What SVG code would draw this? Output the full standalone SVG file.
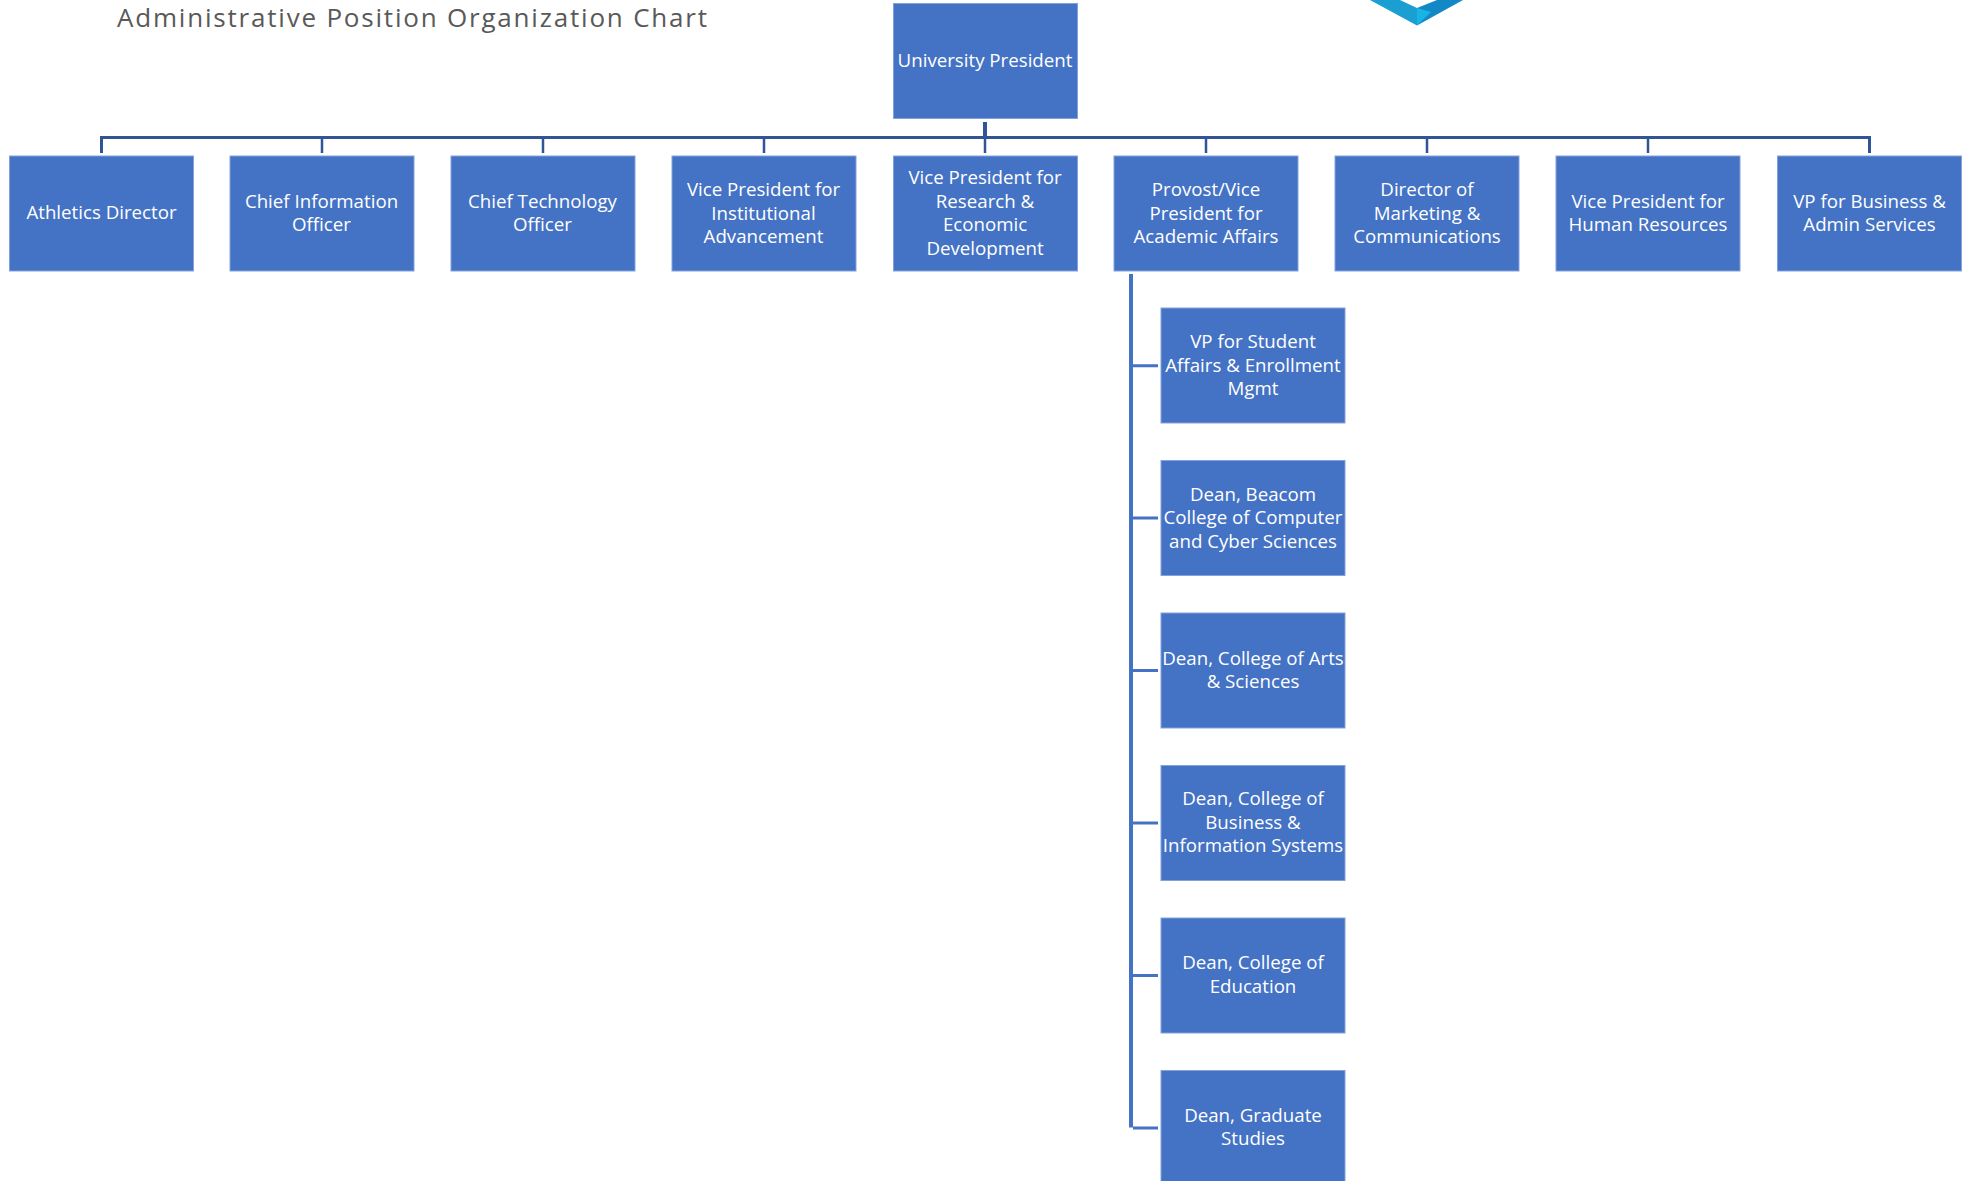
<svg xmlns="http://www.w3.org/2000/svg" width="1971" height="1181" viewBox="0 0 1971 1181">
<style>
.b{fill:#4472c4;stroke:#84a2d9;stroke-width:1}
.t{font-family:"Open Sans","Noto Sans",sans-serif;font-size:18.700px;fill:#fff;text-anchor:middle}
.c{fill:none;stroke:#2f5597}
.d{fill:none;stroke:#4472c4}
.title{font-family:"Open Sans","Noto Sans",sans-serif;font-size:26px;fill:#595959;letter-spacing:1.800px}
</style>
<rect width="1971" height="1181" fill="#fff"/>
<text id="title" class="title" x="117" y="27">Administrative Position Organization Chart</text>
<g id="logo">
<path d="M1370 0L1417 25.500L1417 8L1400 0Z" fill="#1b9ed2"/>
<path d="M1463 0L1417 25.500L1417 8L1437 0Z" fill="#1289c6"/>
<path d="M1417 25.500L1431 12L1417 8Z" fill="#19b4e6"/>
</g>
<g id="connectors">
<path class="c" stroke-width="3" d="M101.500 153V137.500H1869.500V153"/>
<path class="c" stroke-width="4" d="M985 122V137"/>
<path class="c" stroke-width="2.500" d="M322 137V153M543 137V153M764 137V153M985 137V153M1206 137V153M1427 137V153M1648 137V153"/>
<path class="d" stroke-width="4" d="M1131 274V1127.500"/>
<path class="d" stroke-width="3" d="M1133 365.700H1158M1133 518H1158M1133 670.500H1158M1133 823H1158M1133 975.500H1158M1133 1128H1158"/>
</g>
<g id="n0"><rect class="b" x="893.500" y="3.500" width="184" height="115"/><text class="t" x="985" y="67">University President</text></g>
<g id="n1"><rect class="b" x="9.500" y="156" width="184" height="115"/><text class="t" x="101.500" y="219">Athletics Director</text></g>
<g id="n2"><rect class="b" x="230" y="156" width="184" height="115"/><text class="t" x="321.500" y="208">Chief Information</text><text class="t" x="321.500" y="231">Officer</text></g>
<g id="n3"><rect class="b" x="451" y="156" width="184" height="115"/><text class="t" x="542.500" y="208">Chief Technology</text><text class="t" x="542.500" y="231">Officer</text></g>
<g id="n4"><rect class="b" x="672" y="156" width="184" height="115"/><text class="t" x="763.500" y="196">Vice President for</text><text class="t" x="763.500" y="220">Institutional</text><text class="t" x="763.500" y="243">Advancement</text></g>
<g id="n5"><rect class="b" x="893.500" y="156" width="184" height="115"/><text class="t" x="985" y="184">Vice President for</text><text class="t" x="985" y="208">Research &amp;</text><text class="t" x="985" y="231">Economic</text><text class="t" x="985" y="255">Development</text></g>
<g id="n6"><rect class="b" x="1114" y="156" width="184" height="115"/><text class="t" x="1206" y="196">Provost/Vice</text><text class="t" x="1206" y="220">President for</text><text class="t" x="1206" y="243">Academic Affairs</text></g>
<g id="n7"><rect class="b" x="1335" y="156" width="184" height="115"/><text class="t" x="1427" y="196">Director of</text><text class="t" x="1427" y="220">Marketing &amp;</text><text class="t" x="1427" y="243">Communications</text></g>
<g id="n8"><rect class="b" x="1556" y="156" width="184" height="115"/><text class="t" x="1648" y="208">Vice President for</text><text class="t" x="1648" y="231">Human Resources</text></g>
<g id="n9"><rect class="b" x="1777.500" y="156" width="184" height="115"/><text class="t" x="1869.500" y="208">VP for Business &amp;</text><text class="t" x="1869.500" y="231">Admin Services</text></g>
<g id="n10"><rect class="b" x="1161" y="308" width="184" height="115"/><text class="t" x="1253" y="348">VP for Student</text><text class="t" x="1253" y="372">Affairs &amp; Enrollment</text><text class="t" x="1253" y="395">Mgmt</text></g>
<g id="n11"><rect class="b" x="1161" y="460.500" width="184" height="115"/><text class="t" x="1253" y="501">Dean, Beacom</text><text class="t" x="1253" y="524">College of Computer</text><text class="t" x="1253" y="548">and Cyber Sciences</text></g>
<g id="n12"><rect class="b" x="1161" y="613" width="184" height="115"/><text class="t" x="1253" y="665">Dean, College of Arts</text><text class="t" x="1253" y="688">&amp; Sciences</text></g>
<g id="n13"><rect class="b" x="1161" y="765.500" width="184" height="115"/><text class="t" x="1253" y="805">Dean, College of</text><text class="t" x="1253" y="829">Business &amp;</text><text class="t" x="1253" y="852">Information Systems</text></g>
<g id="n14"><rect class="b" x="1161" y="918" width="184" height="115"/><text class="t" x="1253" y="969">Dean, College of</text><text class="t" x="1253" y="993">Education</text></g>
<g id="n15"><rect class="b" x="1161" y="1070.500" width="184" height="115"/><text class="t" x="1253" y="1122">Dean, Graduate</text><text class="t" x="1253" y="1145">Studies</text></g>
</svg>
